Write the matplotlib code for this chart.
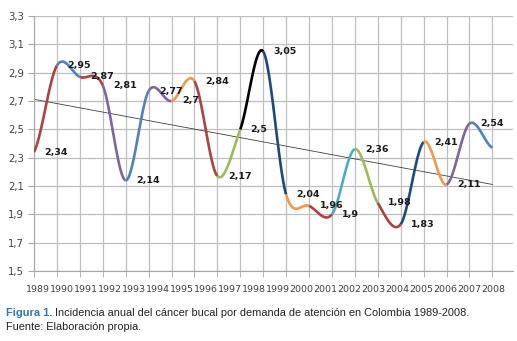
import numpy as np
import matplotlib.pyplot as plt
from matplotlib.ticker import FixedLocator, NullFormatter

years = [str(y) for y in range(1989, 2009)]
values = [2.34, 2.95, 2.87, 2.81, 2.14, 2.77, 2.70, 2.84, 2.17, 2.50, 3.05,
          2.04, 1.96, 1.90, 2.36, 1.98, 1.83, 2.41, 2.11, 2.54, 2.37]
point_labels = ["2,34", "2,95", "2,87", "2,81", "2,14", "2,77", "2,7", "2,84", "2,17", "2,5",
                "3,05", "2,04", "1,96", "1,9", "2,36", "1,98", "1,83", "2,41", "2,11", "2,54", ""]

RED = "#B0413E"
BLUE = "#4F81BD"
PURPLE = "#8064A2"
ORANGE = "#F79646"
GREEN = "#9BBB59"
NAVY = "#1F497D"
AQUA = "#4BACC6"
seg_colors = [RED, BLUE, RED, PURPLE, BLUE, PURPLE, ORANGE, RED, GREEN, "black",
              NAVY, ORANGE, RED, AQUA, GREEN, RED, NAVY, ORANGE, PURPLE, BLUE]


def smooth_segment(y, i, n=40):
    # Catmull-Rom style bezier, like Excel's smoothed line
    p0 = y[max(i - 1, 0)]
    p1 = y[i]
    p2 = y[i + 1]
    p3 = y[min(i + 2, len(y) - 1)]
    c1 = p1 + (p2 - p0) / 6
    c2 = p2 - (p3 - p1) / 6
    t = np.linspace(0, 1, n)
    yy = (1 - t) ** 3 * p1 + 3 * (1 - t) ** 2 * t * c1 + 3 * (1 - t) * t ** 2 * c2 + t ** 3 * p2
    return i + t, yy


fig = plt.figure(figsize=(5.17, 3.41), dpi=100)
ax = fig.add_axes([34 / 517, 70 / 341, 479 / 517, 255 / 341])

x = np.arange(len(values))
for i in range(len(values) - 1):
    sx, sy = smooth_segment(values, i)
    ax.plot(sx, sy, color=seg_colors[i], lw=1.9, solid_capstyle="butt", zorder=3)

# linear trend
k, b = np.polyfit(x, values, 1)
ax.plot([x[0], x[-1]], [k * x[0] + b, k * x[-1] + b], color="#404040", lw=0.6, zorder=2)

for xi, yi, lab in zip(x, values, point_labels):
    if lab:
        ax.annotate(lab, (xi, yi), xytext=(7.5, 0), textcoords="offset points",
                    ha="left", va="center", fontsize=6.8, fontweight="bold", color="#1a1a1a")

ax.set_xlim(0, 20.9)
ax.set_ylim(1.5, 3.3)
yt = np.round(np.arange(1.5, 3.31, 0.2), 1)
ax.set_yticks(yt)
ax.set_yticklabels([f"{v:.1f}".replace(".", ",") for v in yt], fontsize=7.3, color="#404040")
ax.yaxis.grid(True, color="#BFBFBF", lw=0.9)

# grid lines at each point, year labels in between
ax.xaxis.set_minor_locator(FixedLocator(x))
ax.xaxis.set_minor_formatter(NullFormatter())
ax.xaxis.grid(True, which="minor", color="#BFBFBF", lw=0.9)
ax.set_xticks(np.linspace(0.17, 20.05, len(years)))
ax.set_xticklabels(years, fontsize=6.8, color="#404040")
ax.tick_params(axis="x", which="major", length=0, pad=10)
ax.tick_params(axis="x", which="minor", length=4, color="#A6A6A6")
ax.tick_params(axis="y", length=4, color="#A6A6A6", pad=3)
ax.set_axisbelow(True)

for s in ["top", "right"]:
    ax.spines[s].set_visible(False)
ax.spines["left"].set_color("#A6A6A6")
ax.spines["bottom"].set_color("#A6A6A6")

cap_font = "Liberation Sans"
cap_size = 7.9
head = fig.text(6 / 517, 1 - 313 / 341, "Figura 1.", fontsize=cap_size, color="#2E75B6",
                fontweight="bold", family=cap_font, va="center")
renderer = fig.canvas.get_renderer()
head_w = head.get_window_extent(renderer).width
fig.text((6 + head_w + 3) / 517, 1 - 313 / 341,
         "Incidencia anual del cáncer bucal por demanda de atención en Colombia 1989-2008.",
         fontsize=cap_size, color="#222222", family=cap_font, va="center")
fig.text(6 / 517, 1 - 327 / 341, "Fuente: Elaboración propia.", fontsize=cap_size,
         color="#222222", family=cap_font, va="center")

plt.savefig("out.png", dpi=100)
